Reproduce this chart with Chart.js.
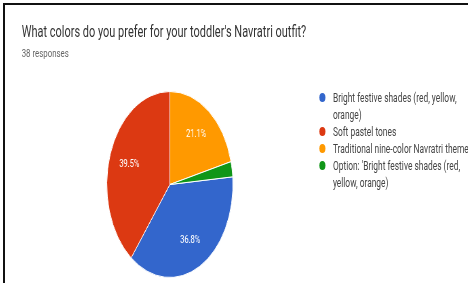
<!DOCTYPE html>
<html>
<head>
<meta charset="utf-8">
<script src="https://cdn.jsdelivr.net/npm/chart.js@4/dist/chart.umd.min.js"></script>
<style>
  html, body { margin: 0; padding: 0; background: #fff; overflow: hidden; }
  #frame {
    position: absolute; left: 3px; top: 3px; width: 470px; height: 290px;
    border-top: 2px solid #111; border-left: 2px solid #111;
  }
  /* the reference is squeezed sideways, so lay out wide and squash */
  #stage {
    position: absolute; left: 0; top: 0; width: 690px; height: 283px;
    transform: scaleX(0.678); transform-origin: 0 0;
    font-family: Roboto, Arial, sans-serif;
  }
  #title { position: absolute; left: 32px; top: 23px; font-size: 16.2px; line-height: 18px; color: #333; white-space: nowrap; }
  #count { position: absolute; left: 32px; top: 47px; font-size: 11.6px; line-height: 13px; color: #666; }
  #pieWrap { position: absolute; left: 157px; top: 91px; width: 187px; height: 187px; }
  #legend { position: absolute; left: 470px; top: 89px; margin: 0; padding: 0; list-style: none; }
  #legend li { position: relative; padding-left: 21px; font-size: 12.4px; line-height: 17px; color: #444; white-space: pre; }
  #legend li span { position: absolute; left: 1px; top: 4px; width: 9px; height: 9px; border-radius: 50%; }
</style>
</head>
<body>
<div id="frame"></div>
<div id="stage">
  <div id="title"></div>
  <div id="count"></div>
  <div id="pieWrap"><canvas id="pie"></canvas></div>
  <ul id="legend"></ul>
</div>
<script>
const title = "What colors do you prefer for your toddler's Navratri outfit?";
const labels = [
  'Bright festive shades (red, yellow,\norange)',
  'Soft pastel tones',
  'Traditional nine-color Navratri theme',
  "Option: 'Bright festive shades (red,\nyellow, orange)"
];
const counts = [14, 15, 8, 1];
const colors = ['#3366cc', '#dc3912', '#ff9900', '#109618'];

const total = counts.reduce((a, b) => a + b, 0);
document.getElementById('title').textContent = title;
document.getElementById('count').textContent = total + ' responses';

const legend = document.getElementById('legend');
labels.forEach((l, i) => {
  const li = document.createElement('li');
  li.innerHTML = '<span style="background:' + colors[i] + '"></span>';
  li.appendChild(document.createTextNode(l));
  legend.appendChild(li);
});

// white percentage text inside the larger slices
const pctLabels = {
  id: 'pctLabels',
  afterDatasetsDraw(chart) {
    const ctx = chart.ctx;
    const meta = chart.getDatasetMeta(0);
    ctx.save();
    ctx.fillStyle = '#fff';
    ctx.font = '11px Roboto, Arial, sans-serif';
    ctx.textAlign = 'center';
    ctx.textBaseline = 'middle';
    meta.data.forEach((arc, i) => {
      const share = counts[i] / total;
      if (share < 0.05) return;
      const p = arc.getProps(['x', 'y', 'startAngle', 'endAngle', 'outerRadius'], true);
      const mid = (p.startAngle + p.endAngle) / 2;
      const r = p.outerRadius * 0.68;
      ctx.fillText((share * 100).toFixed(1) + '%', p.x + Math.cos(mid) * r, p.y + Math.sin(mid) * r);
    });
    ctx.restore();
  }
};

new Chart(document.getElementById('pie'), {
  type: 'pie',
  data: {
    labels: labels,
    datasets: [{
      data: counts,
      backgroundColor: colors,
      borderColor: '#fff',
      borderWidth: 1
    }]
  },
  options: {
    responsive: true,
    maintainAspectRatio: false,
    animation: false,
    // the last two slices sit before 12 o'clock, so red closes at the top
    rotation: 360 * (counts[2] + counts[3]) / total,
    layout: { padding: 0 },
    plugins: { legend: { display: false }, tooltip: { enabled: false } }
  },
  plugins: [pctLabels]
});
</script>
</body>
</html>
